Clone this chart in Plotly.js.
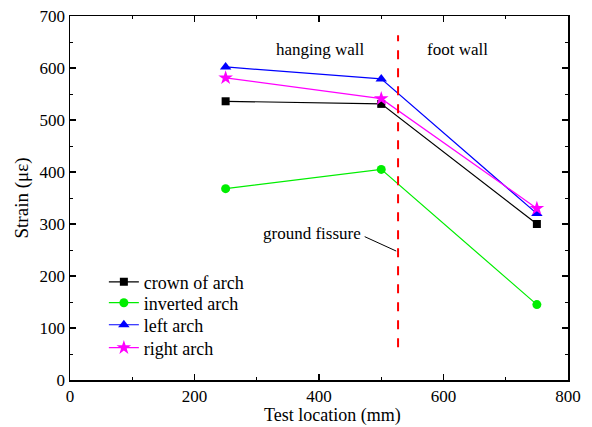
<!DOCTYPE html>
<html><head><meta charset="utf-8">
<script src="https://cdn.plot.ly/plotly-3.0.1.min.js"></script>
<style>html,body{margin:0;padding:0;background:#fff;}#chart{width:592px;height:427px;}</style>
</head><body><div id="chart"></div>
<script>
const locations = [250, 500, 750];
const crownOfArch = [536, 531, 300];
const invertedArch = [368, 405, 145];
const leftArch = [602, 579, 320];
const rightArch = [581, 541, 330];
const seriesNames = ['crown of arch', 'inverted arch', 'left arch', 'right arch'];
const fissureX = [527, 527];
const fissureY = [63, 663];

const font = 'Liberation Serif';
const mk = (y, name, color, symbol, size, leg) => ({
  x: locations, y: y, name: name, type: 'scatter', mode: 'lines+markers',
  line: {color: color, width: 1.2},
  marker: {color: color, symbol: symbol, size: size},
  legend: leg
});
const traces = [
  mk(crownOfArch, seriesNames[0], '#000000', 'square', 8, 'legend'),
  mk(invertedArch, seriesNames[1], '#00ee00', 'circle', 9, 'legend2'),
  mk(leftArch, seriesNames[2], '#0000ff', 'triangle-up', 10, 'legend3'),
  mk(rightArch, seriesNames[3], '#ff00ff', 'star', 11, 'legend4'),
  {x: fissureX, y: fissureY, type: 'scatter', mode: 'lines', showlegend: false,
   line: {color: '#ff0000', width: 2, dash: 'dash'}, hoverinfo: 'skip'}
];
const axisCommon = {
  showline: true, linecolor: '#000', linewidth: 1.5, mirror: 'ticks',
  ticks: 'inside', ticklen: 6, tickwidth: 1.2, tickcolor: '#000',
  showgrid: false, zeroline: false,
  tickfont: {family: font, size: 17, color: '#000'},
  minor: {ticks: 'inside', ticklen: 3, tickcolor: '#000', tickwidth: 1}
};
const legAt = (y) => ({x: 0.068, y: y, xanchor: 'left', yanchor: 'middle', bgcolor: 'rgba(0,0,0,0)',
  font: {family: font, size: 18, color: '#000'}, itemwidth: 30});
const layout = {
  width: 592, height: 427,
  margin: {l: 70, r: 24, t: 16, b: 47},
  paper_bgcolor: '#fff', plot_bgcolor: '#fff',
  font: {family: font, color: '#000'},
  showlegend: true,
  legend: legAt(0.269),
  legend2: legAt(0.2115),
  legend3: legAt(0.151),
  legend4: legAt(0.088),
  xaxis: Object.assign({}, axisCommon, {range: [0, 800], dtick: 200,
    minor: Object.assign({}, axisCommon.minor, {dtick: 100})}),
  yaxis: Object.assign({}, axisCommon, {range: [0, 700], dtick: 100,
    minor: Object.assign({}, axisCommon.minor, {dtick: 50}),
    title: {text: 'Strain (με)', font: {family: font, size: 19, color: '#000'}, standoff: 6}}),
  annotations: [
    {x: 0.528, y: -0.098, xref: 'paper', yref: 'paper', text: 'Test location (mm)', showarrow: false,
     yanchor: 'middle', font: {family: font, size: 18, color: '#000'}},
    {x: 402, y: 636, xref: 'x', yref: 'y', text: 'hanging wall', showarrow: false,
     font: {family: font, size: 17, color: '#000'}},
    {x: 622, y: 636, xref: 'x', yref: 'y', text: 'foot wall', showarrow: false,
     font: {family: font, size: 17, color: '#000'}},
    {x: 524, y: 248, ax: 471, ay: 277, xref: 'x', yref: 'y', axref: 'x', ayref: 'y',
     text: '', showarrow: true, arrowhead: 0, arrowwidth: 1, arrowcolor: '#000'},
    {x: 471, y: 282, xref: 'x', yref: 'y', xanchor: 'right', text: 'ground fissure', showarrow: false,
     font: {family: font, size: 17, color: '#000'}}
  ]
};
Plotly.newPlot('chart', traces, layout, {displayModeBar: false, staticPlot: true});
</script></body></html>
